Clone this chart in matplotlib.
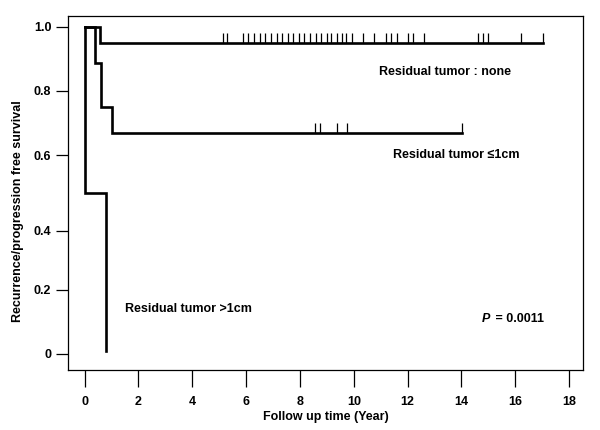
import numpy as np
import matplotlib
matplotlib.use("Agg")
import matplotlib.pyplot as plt
from matplotlib.path import Path

plt.rcParams['font.family'] = ['Liberation Sans', 'DejaVu Sans']
plt.rcParams['font.weight'] = 'bold'

# ---- data ----
# step curves: times of steps and survival after each step
none_t = [0.0, 0.58, 17.05]
none_s = [1.0, 0.95, 0.95]
none_cens = [5.13, 5.28, 5.89, 6.08, 6.30, 6.51, 6.72, 6.92, 7.13, 7.34, 7.54,
             7.75, 7.96, 8.16, 8.37, 8.58, 8.78, 8.99, 9.17, 9.36, 9.55, 9.73,
             9.92, 10.35, 10.76, 11.18, 11.38, 11.59, 12.00, 12.20, 12.60,
             14.62, 14.80, 14.99, 16.23, 17.05]

le1_t = [0.0, 0.39, 0.60, 1.01, 14.02]
le1_s = [1.0, 0.885, 0.75, 0.67, 0.67]
le1_cens = [8.55, 8.74, 9.36, 9.75, 14.02]

gt1_t = [0.0, 0.0, 0.80, 0.80]
gt1_s = [1.0, 0.5, 0.5, 0.01]

x_ticks = [0, 2, 4, 6, 8, 10, 12, 14, 16, 18]
y_ticks = [0, 0.2, 0.4, 0.6, 0.8, 1.0]
y_tick_labels = ['0', '0.2', '0.4', '0.6', '0.8', '1.0']

# irregular y axis spacing of the original figure (piecewise linear scale)
y_knots = [-0.2, 0.0, 0.2, 0.4, 0.6, 0.8, 1.0, 1.2]
y_knot_pos = [12.0, 76.0, 140.0, 199.3, 274.7, 339.3, 403.3, 467.3]


def fwd(v):
    return np.interp(v, y_knots, y_knot_pos)


def inv(p):
    return np.interp(p, y_knot_pos, y_knots)


fig = plt.figure(figsize=(6, 4.3), dpi=100)
ax = fig.add_axes([68 / 600, 1 - 370 / 430, (583 - 68) / 600, (370 - 16) / 430])
ax.set_yscale('function', functions=(fwd, inv))

lw = 1.9
ax.step(none_t, none_s, where='post', color='black', lw=lw, solid_joinstyle='miter')
ax.step(le1_t, le1_s, where='post', color='black', lw=lw, solid_joinstyle='miter')
ax.plot(gt1_t, gt1_s, color='black', lw=lw, solid_joinstyle='miter')

tick_marker = Path([(0, 0), (0, 1)], [Path.MOVETO, Path.LINETO])
ax.plot(none_cens, [none_s[-1]] * len(none_cens), ls='none', marker=tick_marker,
        markersize=14, markeredgewidth=0.9, color='black')
ax.plot(le1_cens, [le1_s[-1]] * len(le1_cens), ls='none', marker=tick_marker,
        markersize=14, markeredgewidth=0.9, color='black')

ax.set_xlim(-0.62, 18.52)
ax.set_ylim(-0.05, 1.033)
ax.set_xticks(x_ticks)
ax.set_yticks(y_ticks)
ax.set_yticklabels(y_tick_labels)
ax.minorticks_off()

for sp in ax.spines.values():
    sp.set_linewidth(0.9)
ax.tick_params(axis='both', direction='out', width=0.9,
               labelsize=9, colors='black')
ax.tick_params(axis='x', length=12.5, pad=6.5)
ax.tick_params(axis='y', length=8.5, pad=3.5)
for lab in ax.get_xticklabels() + ax.get_yticklabels():
    lab.set_fontweight('bold')

ax.set_xlabel('Follow up time (Year)', fontsize=9, fontweight='bold', labelpad=2)
ax.set_ylabel('Recurrence/progression free survival', fontsize=9,
              fontweight='bold', labelpad=5)
ax.yaxis.set_label_coords(-0.086, 0.449)

ax.text(10.95, 0.857, 'Residual tumor : none', fontsize=9, fontweight='bold',
        va='center', ha='left')
ax.text(11.45, 0.6, 'Residual tumor \u22641cm', fontsize=9, fontweight='bold',
        va='center', ha='left')
ax.text(1.5, 0.14, 'Residual tumor >1cm', fontsize=9, fontweight='bold',
        va='center', ha='left')
ax.text(14.75, 0.11, 'P', fontsize=9, fontweight='bold', style='italic',
        va='center', ha='left')
ax.text(15.15, 0.11, ' = 0.0011', fontsize=9, fontweight='bold',
        va='center', ha='left')

fig.savefig('out.png', dpi=100)
